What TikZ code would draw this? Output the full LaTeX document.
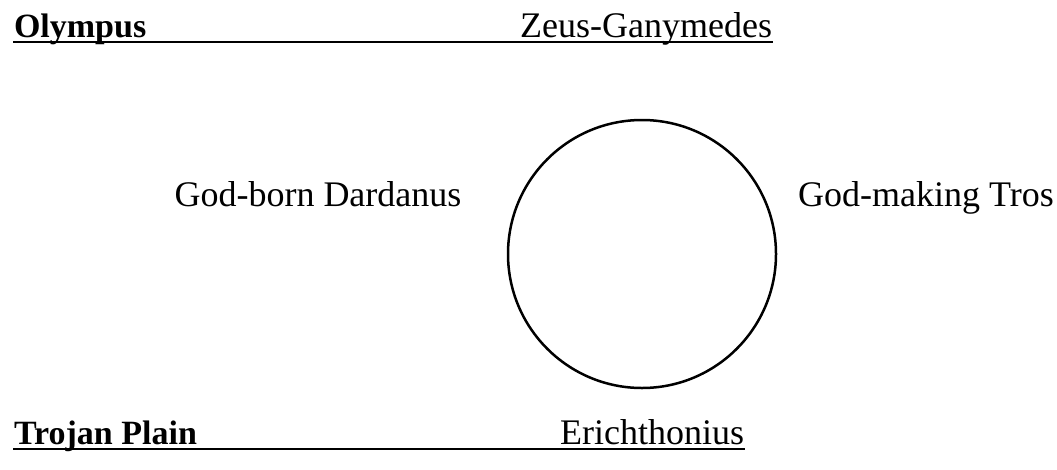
\documentclass[tikz,border=0pt]{standalone}
\usepackage{fontspec}
\setmainfont{Liberation Serif}
\usetikzlibrary{positioning}
\tikzset{every picture/.style={
    every path/.style={line width=2pt},
}}
\tikzset{lbl/.style = {inner sep=0, font=\fontsize{36}{42}\selectfont}}
\tikzset{place/.style = {lbl, font=\fontsize{34}{40}\selectfont\bfseries}}

\begin{document}
\begin{tikzpicture}[x=1pt,y=-1pt]
      \useasboundingbox (0,0) rectangle (1057,469);
      \node[place, anchor=base west] (olympus) at (13,37) {Olympus};
      \node[lbl, anchor=base east] (zeus) at (773,37) {Zeus-Ganymedes};
      \node[place, anchor=base west] (trojan) at (13,444) {Trojan Plain};
      \node[lbl, anchor=base east] (erich) at (745,444) {Erichthonius};
      \node[lbl, anchor=base] (dardanus) at (318,206) {God-born Dardanus};
      \node[lbl, anchor=base] (tros) at (926,206) {God-making Tros};
      \node[draw, circle, line width=2.5pt, minimum size=268pt] (ring) at (642,254) {};
      \draw ([yshift=-5pt]olympus.base west) -- ([yshift=-5pt]zeus.base east);
      \draw ([yshift=-5pt]trojan.base west) -- ([yshift=-5pt]erich.base east);
\end{tikzpicture}
\end{document}
